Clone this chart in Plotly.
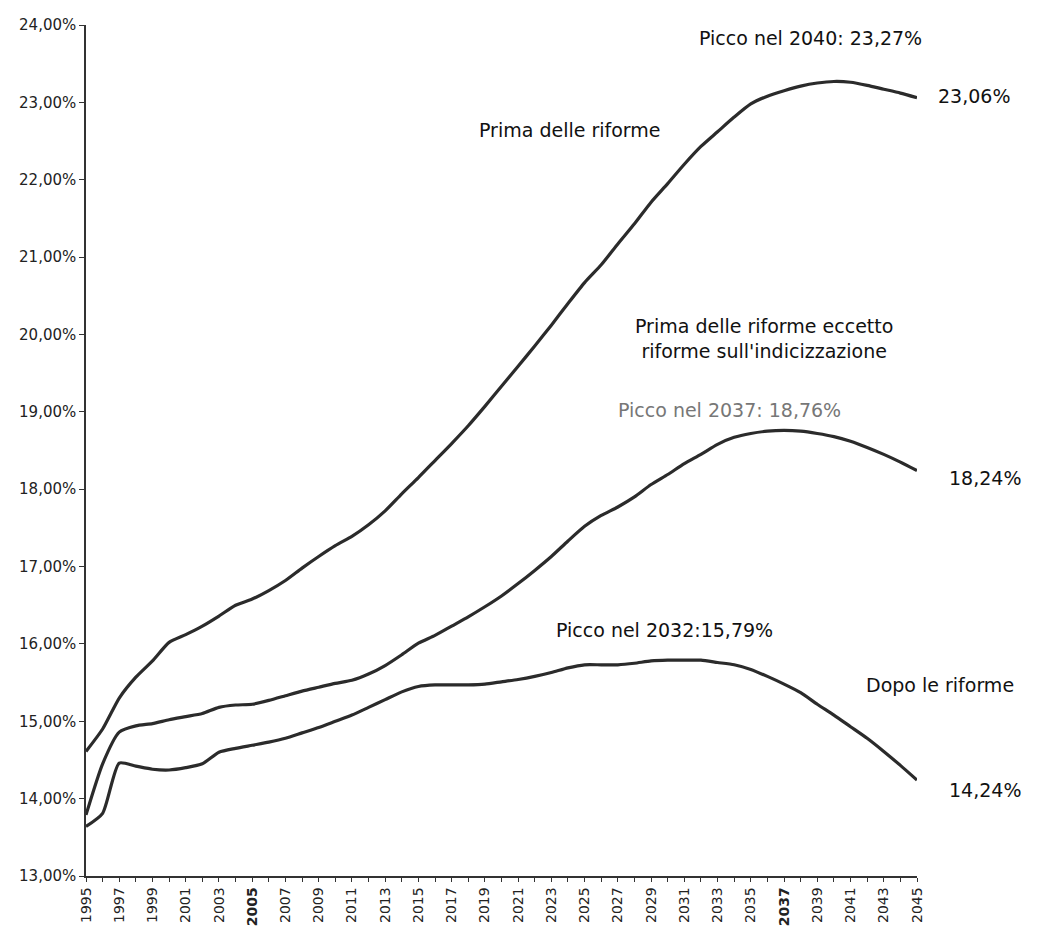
import plotly.graph_objects as go

years = list(range(1995, 2046))

prima_riforme = [14.61, 14.90, 15.30, 15.57, 15.78, 16.02, 16.12, 16.23, 16.36, 16.50,
                 16.58, 16.69, 16.82, 16.98, 17.13, 17.27, 17.39, 17.54, 17.72, 17.94,
                 18.15, 18.37, 18.59, 18.82, 19.07, 19.33, 19.59, 19.85, 20.12, 20.40,
                 20.67, 20.90, 21.17, 21.43, 21.71, 21.95, 22.20, 22.43, 22.62, 22.81,
                 22.98, 23.08, 23.15, 23.21, 23.25, 23.27, 23.26, 23.22, 23.17, 23.12,
                 23.06]

eccetto_indic = [13.79, 14.45, 14.86, 14.94, 14.97, 15.02, 15.06, 15.10, 15.18, 15.21,
                 15.22, 15.27, 15.33, 15.39, 15.44, 15.49, 15.53, 15.61, 15.72, 15.86,
                 16.01, 16.11, 16.23, 16.35, 16.48, 16.62, 16.78, 16.95, 17.13, 17.33,
                 17.52, 17.66, 17.77, 17.90, 18.06, 18.19, 18.33, 18.45, 18.58, 18.67,
                 18.72, 18.75, 18.76, 18.75, 18.72, 18.68, 18.62, 18.54, 18.45, 18.35,
                 18.24]

dopo_riforme = [13.64, 13.81, 14.46, 14.42, 14.38, 14.37, 14.40, 14.45, 14.60, 14.65,
                14.69, 14.73, 14.78, 14.85, 14.92, 15.00, 15.08, 15.18, 15.28, 15.38,
                15.45, 15.47, 15.47, 15.47, 15.48, 15.51, 15.54, 15.58, 15.63, 15.69,
                15.73, 15.73, 15.73, 15.75, 15.78, 15.79, 15.79, 15.79, 15.76, 15.73,
                15.67, 15.58, 15.48, 15.37, 15.22, 15.08, 14.93, 14.78, 14.61, 14.43,
                14.24]

y_ticks = list(range(13, 25))
y_labels = [f"{v:.2f}".replace(".", ",") + "%" for v in y_ticks]
x_labels = []
for yr in years:
    if (yr - 1995) % 2 == 0:
        x_labels.append(f"<b>{yr}</b>" if yr in (2005, 2037) else str(yr))
    else:
        x_labels.append("")

X0, X1 = 1995, 2045
Y0, Y1 = 13, 24

LINE = "#2b2b2b"
FONT = "DejaVu Sans"

fig = go.Figure()
for name, vals in [("Prima delle riforme", prima_riforme),
                   ("Prima delle riforme eccetto riforme sull'indicizzazione", eccetto_indic),
                   ("Dopo le riforme", dopo_riforme)]:
    fig.add_trace(go.Scatter(x=years, y=vals, mode="lines", name=name,
                             line=dict(color=LINE, width=3.2, shape="spline", smoothing=0.6),
                             cliponaxis=False))

annotations = [
    ("Picco nel 2040: 23,27%", 2038.6, 23.83, "#111"),
    ("23,06%", 2048.4, 23.08, "#111"),
    ("Prima delle riforme", 2024.1, 22.64, "#111"),
    ("Prima delle riforme eccetto<br>riforme sull'indicizzazione", 2035.8, 19.95, "#111"),
    ("Picco nel 2037: 18,76%", 2033.7, 19.02, "#777"),
    ("18,24%", 2049.1, 18.14, "#111"),
    ("Picco nel 2032:15,79%", 2029.8, 16.18, "#111"),
    ("Dopo le riforme", 2046.4, 15.47, "#111"),
    ("14,24%", 2049.1, 14.11, "#111"),
]
for text, x, y, col in annotations:
    fig.add_annotation(x=(x - X0) / (X1 - X0), y=(y - Y0) / (Y1 - Y0),
                       xref="paper", yref="paper", text=text, showarrow=False,
                       xanchor="center", yanchor="middle",
                       font=dict(family=FONT, size=19, color=col))

fig.update_layout(
    width=1031, height=918,
    margin=dict(l=78, r=122, t=17, b=50),
    paper_bgcolor="white", plot_bgcolor="white",
    showlegend=False,
    font=dict(family=FONT, color="#222"),
)
fig.update_xaxes(range=[X0, X1], tickvals=years, ticktext=x_labels, tickangle=-90,
                 showline=True, linecolor="#333", linewidth=1.5, ticks="outside",
                 ticklen=4, tickcolor="#333", showgrid=False, zeroline=False,
                 tickfont=dict(family=FONT, size=14, color="#222"), automargin=False)
fig.update_yaxes(range=[Y0, Y1], tickvals=y_ticks, ticktext=y_labels,
                 showline=True, linecolor="#333", linewidth=1.5, ticks="outside",
                 ticklen=5, tickcolor="#333", showgrid=False, zeroline=False,
                 tickfont=dict(family=FONT, size=15, color="#222"), automargin=False)

fig.write_html("out.html")
